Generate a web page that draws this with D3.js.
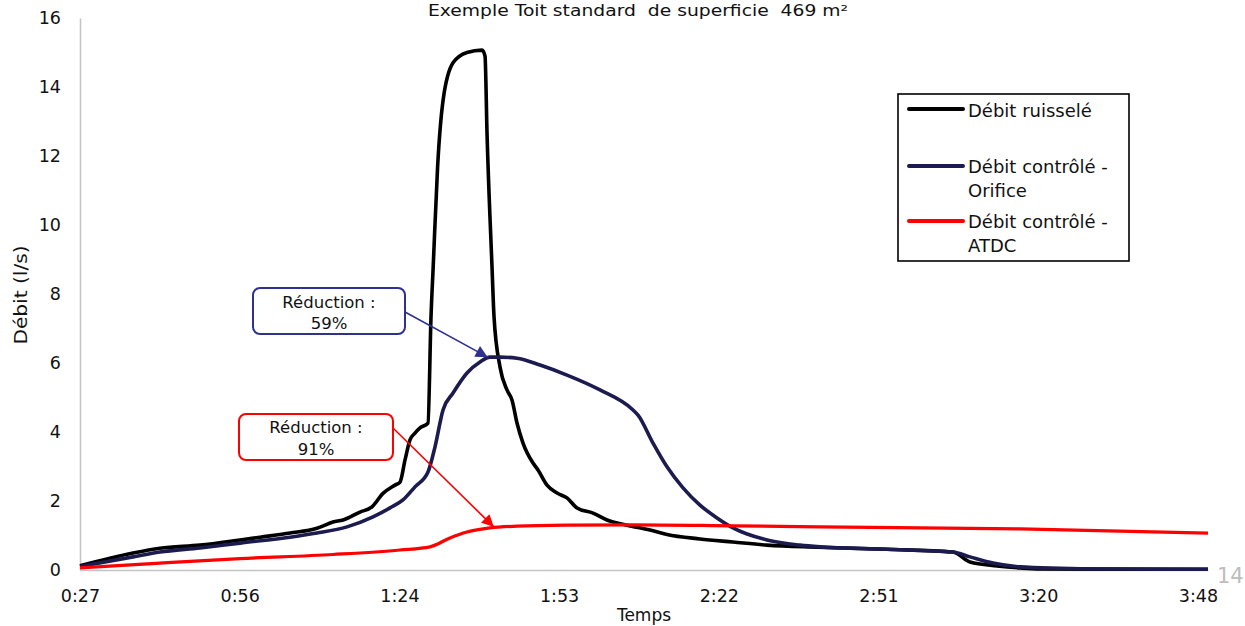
<!DOCTYPE html>
<html>
<head>
<meta charset="utf-8">
<script src="https://cdn.jsdelivr.net/npm/d3@7"></script>
<style>
  html, body { margin: 0; padding: 0; background: #fff; }
  svg { display: block; font-family: "DejaVu Sans", Verdana, sans-serif; }
  .keep-spaces { white-space: pre; }
</style>
</head>
<body>
<svg id="chart" width="1245" height="626"></svg>
<script>
// Time in minutes since 0:00, flow in l/s
const ruisseleTime = [27.0, 36.53, 41.38, 48.58, 55.77, 59.36, 64.76, 69.61, 72.49, 74.29, 77.34, 79.5, 81.48, 83.64, 84.54, 85.44, 86.33, 87.23, 88.13, 89.57, 90.11, 90.5, 91.3, 92.27, 94.07, 96.58, 99.28, 99.82, 100.18, 101.08, 101.44, 102.52, 103.77, 104.67, 105.57, 106.65, 108.45, 109.35, 110.97, 112.76, 114.56, 116.36, 119.24, 121.75, 125.35, 129.48, 132.54, 138.47, 144.41, 150.52, 159.51, 172.1, 183.96, 187.02, 191.87, 196.01, 199.61, 229.81];
const ruisseleFlow = [0.12, 0.49, 0.63, 0.72, 0.87, 0.95, 1.07, 1.21, 1.39, 1.45, 1.68, 1.83, 2.22, 2.46, 2.55, 3.19, 3.77, 3.97, 4.12, 4.26, 7.34, 8.78, 11.7, 13.6, 14.7, 15.0, 15.07, 14.9, 12.67, 8.78, 7.34, 5.88, 5.22, 4.93, 4.26, 3.68, 3.1, 2.9, 2.46, 2.23, 2.09, 1.8, 1.65, 1.45, 1.3, 1.16, 1.03, 0.9, 0.81, 0.72, 0.66, 0.6, 0.52, 0.23, 0.12, 0.06, 0.03, 0.02];

const orificeTime = [27.0, 36.53, 41.38, 48.58, 55.77, 64.76, 69.61, 75.01, 79.68, 82.74, 85.07, 87.23, 89.57, 90.83, 92.27, 94.07, 96.58, 98.92, 100.72, 102.52, 105.57, 109.71, 114.56, 120.49, 126.43, 127.33, 130.02, 132.54, 135.42, 138.47, 141.53, 144.41, 150.52, 156.46, 160.05, 172.1, 183.96, 187.02, 191.15, 196.01, 203.2, 210.39, 229.81];
const orificeFlow = [0.1, 0.38, 0.52, 0.64, 0.78, 0.95, 1.07, 1.25, 1.54, 1.8, 2.03, 2.41, 2.84, 3.57, 4.64, 5.13, 5.71, 6.03, 6.17, 6.17, 6.14, 5.94, 5.65, 5.22, 4.64, 4.49, 3.68, 2.99, 2.38, 1.88, 1.51, 1.22, 0.87, 0.72, 0.67, 0.6, 0.52, 0.38, 0.2, 0.09, 0.05, 0.03, 0.02];

const atdcTime = [27.0, 41.38, 55.77, 72.49, 84.54, 89.93, 93.52, 96.58, 100.72, 105.57, 114.56, 126.43, 144.41, 160.05, 196.01, 229.81];
const atdcFlow = [0.06, 0.2, 0.33, 0.45, 0.58, 0.67, 0.93, 1.1, 1.22, 1.27, 1.3, 1.31, 1.28, 1.25, 1.19, 1.07];

const seriesNames = ["Débit ruisselé", "Débit contrôlé - Orifice", "Débit contrôlé - ATDC"];
const seriesColors = ["#000000", "#1c1b4f", "#ff0000"];

const xTickLabels = ["0:27", "0:56", "1:24", "1:53", "2:22", "2:51", "3:20", "3:48"];
const yTicks = [0, 2, 4, 6, 8, 10, 12, 14, 16];

// Reduction callouts: label text and the point each arrow points at (time, flow)
const calloutLabels = [["Réduction :", "59%"], ["Réduction :", "91%"]];
const calloutTargets = [[100.3, 6.17], [101.4, 1.25]];

const svg = d3.select("#chart");

const x = d3.scaleLinear().domain([27, 229.81]).range([80, 1208]);
const y = d3.scaleLinear().domain([0, 16]).range([570, 18]);

// tick positions: equally spaced from 0:27 to 3:48
const xTickValues = xTickLabels.map((d, i) => 27 + i * (228 - 27) / (xTickLabels.length - 1));

// Title (double spaces kept)
svg.append("text")
  .attr("class", "keep-spaces")
  .attr("xml:space", "preserve")
  .attr("x", 428).attr("y", 16)
  .attr("font-size", 15.5)
  .attr("textLength", 420).attr("lengthAdjust", "spacingAndGlyphs")
  .attr("fill", "#111")
  .text("Exemple Toit standard  de superficie  469 m²");

// Axes
const gx = svg.append("g").attr("transform", "translate(0,570)")
  .call(d3.axisBottom(x).tickValues(xTickValues).tickSize(0).tickPadding(20)
    .tickFormat((d, i) => xTickLabels[i]));
const gy = svg.append("g").attr("transform", "translate(80,0)")
  .call(d3.axisLeft(y).tickValues(yTicks).tickSize(0).tickPadding(19));
[gx, gy].forEach(g => {
  g.select(".domain").attr("stroke", "#c4c4c4").attr("stroke-width", 1.5);
  g.selectAll("text").attr("font-size", 17.5).attr("fill", "#111")
    .attr("font-family", "'DejaVu Sans', Verdana, sans-serif");
});

// Axis titles
svg.append("text")
  .attr("x", 644).attr("y", 621)
  .attr("text-anchor", "middle").attr("font-size", 17).attr("fill", "#111")
  .text("Temps");
svg.append("text")
  .attr("transform", "translate(27,295) rotate(-90)")
  .attr("text-anchor", "middle").attr("font-size", 17).attr("fill", "#111")
  .attr("textLength", 99).attr("lengthAdjust", "spacingAndGlyphs")
  .text("Débit (l/s)");

// Series lines
const line = d3.line().x(d => x(d[0])).y(d => y(d[1])).curve(d3.curveMonotoneX);
const series = [
  d3.zip(ruisseleTime, ruisseleFlow),
  d3.zip(orificeTime, orificeFlow),
  d3.zip(atdcTime, atdcFlow)
];
const lineWidths = [3.6, 3.6, 3.2];
series.forEach((s, i) => {
  svg.append("path").datum(s)
    .attr("fill", "none")
    .attr("stroke", seriesColors[i])
    .attr("stroke-width", lineWidths[i])
    .attr("stroke-linejoin", "round")
    .attr("d", line);
});

// Arrowheads
const calloutColors = ["#2e3192", "#ff0000"];
const defs = svg.append("defs");
calloutColors.forEach((c, i) => {
  defs.append("marker")
    .attr("id", "arrow" + i)
    .attr("viewBox", "0 0 10 10").attr("refX", 10).attr("refY", 5)
    .attr("markerWidth", 10).attr("markerHeight", 7.5)
    .attr("markerUnits", "strokeWidth")
    .attr("orient", "auto")
    .append("path").attr("d", "M0,0 L10,5 L0,10 z").attr("fill", c);
});

// Callout boxes and arrows
const boxes = [
  { x0: 253, y0: 288, w: 152, h: 46, ax: 405, ay: 312, base1: 308, base2: 329 },
  { x0: 239, y0: 414, w: 154, h: 46, ax: 393, ay: 428, base1: 433, base2: 455 }
];
boxes.forEach((b, i) => {
  svg.append("line")
    .attr("x1", b.ax).attr("y1", b.ay)
    .attr("x2", x(calloutTargets[i][0])).attr("y2", y(calloutTargets[i][1]))
    .attr("stroke", calloutColors[i]).attr("stroke-width", 1.6)
    .attr("marker-end", `url(#arrow${i})`);
  svg.append("rect")
    .attr("x", b.x0).attr("y", b.y0).attr("width", b.w).attr("height", b.h)
    .attr("rx", 7).attr("ry", 7)
    .attr("fill", "#fff").attr("stroke", calloutColors[i]).attr("stroke-width", 2);
  const cx = b.x0 + b.w / 2;
  svg.append("text").attr("x", cx).attr("y", b.base1)
    .attr("text-anchor", "middle").attr("font-size", 16.5).attr("fill", "#111")
    .text(calloutLabels[i][0]);
  svg.append("text").attr("x", cx).attr("y", b.base2)
    .attr("text-anchor", "middle").attr("font-size", 16.5).attr("fill", "#111")
    .text(calloutLabels[i][1]);
});

// Legend
const legend = svg.append("g");
legend.append("rect")
  .attr("x", 898).attr("y", 94).attr("width", 231).attr("height", 167)
  .attr("fill", "#fff").attr("stroke", "#000").attr("stroke-width", 1.6);
const legendRows = [
  { ly: 109, lines: ["Débit ruisselé"], base: 117 },
  { ly: 166, lines: ["Débit contrôlé -", "Orifice"], base: 173 },
  { ly: 221, lines: ["Débit contrôlé -", "ATDC"], base: 228 }
];
legendRows.forEach((r, i) => {
  legend.append("line")
    .attr("x1", 909).attr("x2", 963).attr("y1", r.ly).attr("y2", r.ly)
    .attr("stroke", seriesColors[i]).attr("stroke-width", 4).attr("stroke-linecap", "round");
  r.lines.forEach((t, j) => {
    legend.append("text")
      .attr("x", 968).attr("y", r.base + j * 23.5)
      .attr("font-size", 18).attr("fill", "#111")
      .text(t);
  });
});

// Page number
svg.append("text")
  .attr("x", 1217).attr("y", 583)
  .attr("font-size", 21).attr("fill", "#bdbdbd")
  .text("14");
</script>
</body>
</html>
